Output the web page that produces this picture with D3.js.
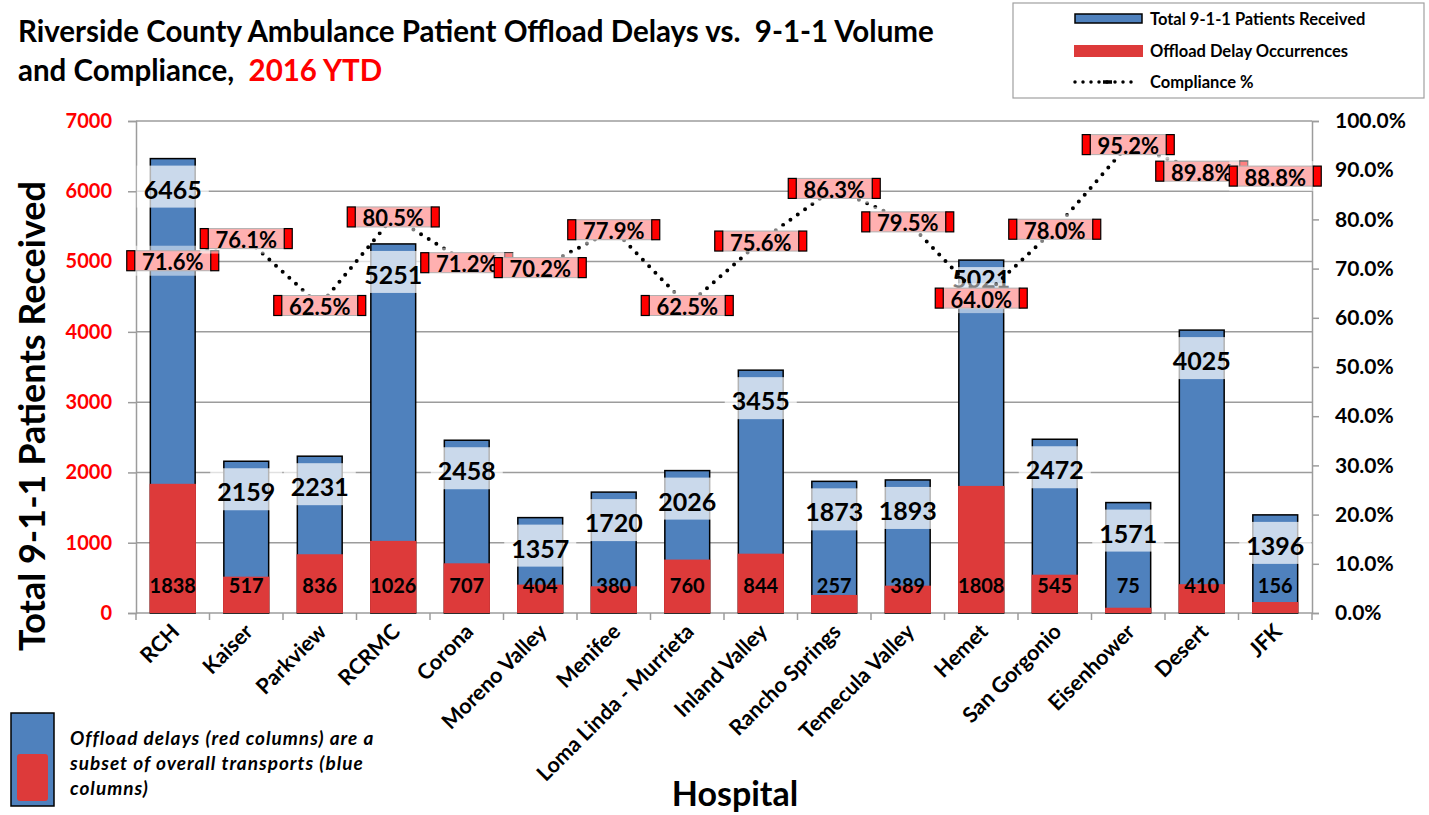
<html>
<head>
  <title>Riverside County Ambulance Patient Offload Delays</title>
  <script src="https://cdn.jsdelivr.net/npm/d3@7"></script>
  <style>
    body { margin: 0; background: #fff; }
    text { font-family: Lato, "Open Sans", sans-serif; font-weight: bold; white-space: pre; }
  </style>
</head>
<body>
<script>
  // Data
  const hospitals = ["RCH", "Kaiser", "Parkview", "RCRMC", "Corona", "Moreno Valley", "Menifee",
    "Loma Linda - Murrieta", "Inland Valley", "Rancho Springs", "Temecula Valley", "Hemet",
    "San Gorgonio", "Eisenhower", "Desert", "JFK"];
  const totalPatients = [6465, 2159, 2231, 5251, 2458, 1357, 1720, 2026, 3455, 1873, 1893, 5021, 2472, 1571, 4025, 1396];
  const offloadDelays = [1838, 517, 836, 1026, 707, 404, 380, 760, 844, 257, 389, 1808, 545, 75, 410, 156];
  const compliance = [71.6, 76.1, 62.5, 80.5, 71.2, 70.2, 77.9, 62.5, 75.6, 86.3, 79.5, 64.0, 78.0, 95.2, 89.8, 88.8];
  const leftTicks = [0, 1000, 2000, 3000, 4000, 5000, 6000, 7000];
  const rightTicks = [0, 10, 20, 30, 40, 50, 60, 70, 80, 90, 100];

  const w = 1429, h = 815;
  const pLeft = 136, pRight = 1312, pTop = 121, pBottom = 613;
  const blue = "#4f81bd", red = "#dd3a3a";

  const svg = d3.select("body").append("svg")
    .attr("width", w).attr("height", h);

  const x = d3.scaleBand().domain(hospitals).range([pLeft, pRight])
    .paddingInner(0.39).paddingOuter(0.195);
  const y = d3.scaleLinear().domain([0, 7000]).range([pBottom, pTop]);
  const yPct = d3.scaleLinear().domain([0, 100]).range([pBottom, pTop]);

  // grid
  svg.append("g").selectAll("line").data(leftTicks.slice(1)).enter().append("line")
    .attr("x1", pLeft).attr("x2", pRight)
    .attr("y1", d => y(d)).attr("y2", d => y(d))
    .attr("stroke", "#9c9c9c").attr("stroke-width", 1.5);

  // left axis
  const yAxis = d3.axisLeft(y).tickValues(leftTicks).tickSize(8).tickFormat(d3.format("d"));
  const gy = svg.append("g").attr("transform", "translate(" + pLeft + ",0)").call(yAxis);
  gy.select(".domain").attr("stroke", "#9c9c9c").attr("stroke-width", 1.5);
  gy.selectAll(".tick line").attr("stroke", "#9c9c9c").attr("stroke-width", 1.5);
  gy.selectAll(".tick text").attr("x", -24).attr("fill", "#ff0000")
    .style("font-size", "20px");

  // right axis
  const yAxisR = d3.axisRight(yPct).tickValues(rightTicks).tickSize(7)
    .tickFormat(d => d.toFixed(1) + "%");
  const gr = svg.append("g").attr("transform", "translate(" + pRight + ",0)").call(yAxisR);
  gr.select(".domain").attr("stroke", "#9c9c9c").attr("stroke-width", 1.5);
  gr.selectAll(".tick line").attr("stroke", "#9c9c9c").attr("stroke-width", 1.5);
  gr.selectAll(".tick text").attr("x", 23).attr("fill", "#000")
    .style("font-size", "21px");

  // x axis: ticks at category boundaries
  const gx = svg.append("g");
  gx.append("line").attr("x1", pLeft).attr("x2", pRight).attr("y1", pBottom).attr("y2", pBottom)
    .attr("stroke", "#9c9c9c").attr("stroke-width", 1.5);
  gx.selectAll("line.tk").data(d3.range(hospitals.length + 1)).enter().append("line")
    .attr("class", "tk")
    .attr("x1", i => pLeft + i * x.step()).attr("x2", i => pLeft + i * x.step())
    .attr("y1", pBottom).attr("y2", pBottom + 7)
    .attr("stroke", "#9c9c9c").attr("stroke-width", 1.5);
  gx.selectAll("text").data(hospitals).enter().append("text")
    .attr("transform", d => "translate(" + (x(d) + x.bandwidth() / 2 + 8) + "," + (pBottom + 20) + ") rotate(-45)")
    .attr("text-anchor", "end")
    .style("font-size", "21.5px")
    .text(d => d);

  // bars
  const bars = svg.append("g");
  bars.selectAll("rect.total").data(hospitals).enter().append("rect")
    .attr("class", "total")
    .attr("x", d => x(d)).attr("width", x.bandwidth())
    .attr("y", (d, i) => y(totalPatients[i]))
    .attr("height", (d, i) => pBottom - y(totalPatients[i]))
    .attr("fill", blue).attr("stroke", "#000").attr("stroke-width", 1.5);
  bars.selectAll("rect.delay").data(hospitals).enter().append("rect")
    .attr("class", "delay")
    .attr("x", d => x(d) - 0.75).attr("width", x.bandwidth() + 1.5)
    .attr("y", (d, i) => y(offloadDelays[i]))
    .attr("height", (d, i) => pBottom - y(offloadDelays[i]))
    .attr("fill", red);

  // total labels (inside end); nudged up when a compliance label sits right under them
  function totalLabelY(i) {
    const ty = y(totalPatients[i]) + 30;
    const cy = yPct(compliance[i]);
    return (cy > ty && cy - ty < 20) ? cy - 20 : ty;
  }
  const tl = svg.append("g");
  tl.selectAll("rect").data(hospitals).enter().append("rect")
    .attr("x", d => x(d) + x.bandwidth() / 2 - 36).attr("width", 72)
    .attr("y", (d, i) => y(totalPatients[i]) + 7).attr("height", 42)
    .attr("fill", "#fff").attr("opacity", 0.7);
  tl.selectAll("text").data(hospitals).enter().append("text")
    .attr("x", d => x(d) + x.bandwidth() / 2)
    .attr("y", (d, i) => totalLabelY(i))
    .attr("text-anchor", "middle").attr("dominant-baseline", "central")
    .style("font-size", "25px")
    .text((d, i) => totalPatients[i]);

  // delay labels (inside base)
  svg.append("g").selectAll("text").data(hospitals).enter().append("text")
    .attr("x", d => x(d) + x.bandwidth() / 2)
    .attr("y", pBottom - 28)
    .attr("text-anchor", "middle").attr("dominant-baseline", "central")
    .style("font-size", "20px")
    .text((d, i) => offloadDelays[i]);

  // compliance line
  const line = d3.line()
    .x(d => x(d) + x.bandwidth() / 2)
    .y((d, i) => yPct(compliance[i]));
  svg.append("path").datum(hospitals)
    .attr("d", line).attr("fill", "none")
    .attr("stroke", "#000").attr("stroke-width", 4)
    .attr("stroke-linecap", "round").attr("stroke-dasharray", "0,9");

  // compliance labels
  const cl = svg.append("g").selectAll("g").data(hospitals).enter().append("g")
    .attr("transform", (d, i) => "translate(" + (x(d) + x.bandwidth() / 2) + "," + yPct(compliance[i]) + ")");
  cl.append("rect").attr("x", -46).attr("y", -15).attr("width", 92).attr("height", 30)
    .attr("fill", "#fff").attr("opacity", 0.5);
  cl.append("rect").attr("x", -38).attr("y", -10).attr("width", 77).attr("height", 20)
    .attr("fill", "#ffb0b0").attr("stroke", "#b0b0b0").attr("stroke-width", 1);
  cl.append("rect").attr("x", -46).attr("y", -10).attr("width", 8).attr("height", 20)
    .attr("fill", "#ff0000").attr("stroke", "#000").attr("stroke-width", 1.2);
  cl.append("rect").attr("x", 38).attr("y", -10).attr("width", 8).attr("height", 20)
    .attr("fill", "#ff0000").attr("stroke", "#000").attr("stroke-width", 1.2);
  cl.append("text").attr("x", 0).attr("y", 1)
    .attr("text-anchor", "middle").attr("dominant-baseline", "central")
    .style("font-size", "22px")
    .text((d, i) => compliance[i].toFixed(1) + "%");

  // titles
  svg.append("text").attr("x", 18).attr("y", 42).style("font-size", "29.5px")
    .text("Riverside County Ambulance Patient Offload Delays vs.  9-1-1 Volume");
  const t2 = svg.append("text").attr("x", 18).attr("y", 81).style("font-size", "29.5px");
  t2.append("tspan").text("and Compliance,  ");
  t2.append("tspan").attr("fill", "#ff0000").text("2016 YTD");

  svg.append("text")
    .attr("transform", "translate(45,416) rotate(-90)")
    .attr("text-anchor", "middle").style("font-size", "36px")
    .text("Total 9-1-1 Patients Received");

  svg.append("text").attr("x", 735).attr("y", 806)
    .attr("text-anchor", "middle").style("font-size", "34px")
    .text("Hospital");

  // legend
  const lg = svg.append("g");
  lg.append("rect").attr("x", 1013).attr("y", 3).attr("width", 411).attr("height", 95)
    .attr("fill", "#fff").attr("stroke", "#a0a0a0").attr("stroke-width", 1.2);
  lg.append("rect").attr("x", 1075).attr("y", 14).attr("width", 67).attr("height", 9)
    .attr("fill", blue).attr("stroke", "#000").attr("stroke-width", 1.5);
  lg.append("rect").attr("x", 1074).attr("y", 45).attr("width", 69).attr("height", 12)
    .attr("fill", red);
  lg.append("line").attr("x1", 1075).attr("x2", 1135).attr("y1", 82).attr("y2", 82)
    .attr("stroke", "#000").attr("stroke-width", 3.5)
    .attr("stroke-linecap", "round").attr("stroke-dasharray", "0,8");
  lg.append("line").attr("x1", 1103).attr("x2", 1112).attr("y1", 82).attr("y2", 82)
    .attr("stroke", "#000").attr("stroke-width", 3.5);
  const legTexts = ["Total 9-1-1 Patients Received", "Offload Delay Occurrences", "Compliance %"];
  lg.selectAll("text").data(legTexts).enter().append("text")
    .attr("x", 1150).attr("y", (d, i) => [19, 51, 82][i])
    .attr("dominant-baseline", "central").style("font-size", "16.5px")
    .text(d => d);

  // note at the bottom left
  svg.append("rect").attr("x", 11).attr("y", 713).attr("width", 43).attr("height", 93)
    .attr("fill", blue).attr("stroke", "#000").attr("stroke-width", 1.5);
  svg.append("rect").attr("x", 17).attr("y", 754).attr("width", 31).attr("height", 47)
    .attr("rx", 3).attr("fill", red);
  const note = ["Offload delays (red columns) are a", "subset of overall transports (blue", "columns)"];
  svg.append("g").selectAll("text").data(note).enter().append("text")
    .attr("x", 70).attr("y", (d, i) => 745 + i * 25)
    .style("font-size", "19px").style("font-style", "italic")
    .style("letter-spacing", "1px")
    .text(d => d);
</script>
</body>
</html>
